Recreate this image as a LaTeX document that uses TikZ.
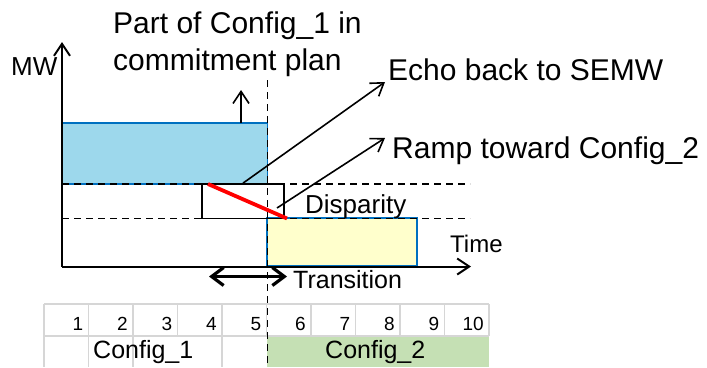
\documentclass[tikz,border=0pt]{standalone}
\usepackage{fontspec}
\setmainfont{Liberation Sans}
\usetikzlibrary{arrows.meta}
\definecolor{boxblue}{RGB}{157,216,236}
\definecolor{edgeblue}{RGB}{0,112,192}
\definecolor{boxyellow}{RGB}{255,255,204}
\definecolor{cellgreen}{RGB}{197,224,180}
\definecolor{gridgray}{RGB}{214,214,214}
\definecolor{rampred}{RGB}{255,0,0}
\tikzset{
  barb/.style={-{Straight Barb[length=12pt,width=16pt]}},
  axisline/.style={line width=2pt, barb},
  pointer/.style={line width=1.6pt, barb},
  dashline/.style={line width=1.8pt, dash pattern=on 7pt off 5pt},
  bigtext/.style={inner sep=0pt, anchor=base west, font=\fontsize{30}{36}\selectfont},
  midtext/.style={inner sep=0pt, anchor=base west, font=\fontsize{25}{30}\selectfont},
  celltext/.style={inner sep=0pt, anchor=base east, font=\fontsize{19}{23}\selectfont},
  planbox/.style={draw=edgeblue, line width=1.8pt, inner sep=0pt},
  gridline/.style={draw=gridgray, line width=1.5pt}
}
\begin{document}
\begin{tikzpicture}[x=1pt,y=-1pt]
\useasboundingbox (0,0) rectangle (707,367);
% boxes
\node (blue) [planbox, fill=boxblue, minimum width=205.5pt, minimum height=61pt] at (164.75,153.5) {};
\node (yellow) [planbox, fill=boxyellow, minimum width=150pt, minimum height=48pt] at (342.25,242.25) {};
\node (small) [draw=black, line width=1.7pt, inner sep=0pt, minimum width=82pt, minimum height=34.5pt] at (243,201.25) {};
% axes
\coordinate (origin) at (62,266.5);
\coordinate (ytip) at (62,42);
\coordinate (xtip) at (471,266.5);
\draw[axisline] (origin) -- (ytip);
\draw[axisline] (origin) -- (xtip);
% dashed guides
\coordinate (hA0) at (62,184);   \coordinate (hA1) at (470,184);
\coordinate (hB0) at (62,218.5); \coordinate (hB1) at (470,218.5);
\coordinate (v0) at (267.5,80);  \coordinate (v1) at (267.5,367);
\draw[dashline] (hA0) -- (hA1);
\draw[dashline] (hB0) -- (hB1);
% red ramp
\coordinate (r0) at (208,184);
\coordinate (r1) at (287,218.5);
\draw[rampred, line width=3.8pt] (r0) -- (r1);
% labels
\node (mw) [midtext, font=\fontsize{26}{30}\selectfont] at (11,75) {MW};
\node (part1) [bigtext] at (113,33) {Part of Config\_1 in};
\node (part2) [bigtext] at (113,70) {commitment plan};
\node (echo) [bigtext] at (388,80) {Echo back to SEMW};
\node (ramp) [bigtext] at (392,158) {Ramp toward Config\_2};
\node (disp) [midtext, font=\fontsize{26}{30}\selectfont] at (305,213) {Disparity};
\node (time) [midtext, font=\fontsize{24}{28}\selectfont] at (450,252) {Time};
\node (trans) [midtext] at (293,288) {Transition};
% pointers
\coordinate (upA) at (241,123);
\coordinate (upB) at (241,90);
\draw[pointer] (upA) -- (upB);
\coordinate (echotip) at (385,82);
\coordinate (ramps) at (277,208);
\coordinate (ramptip) at (385,138);
\draw[pointer] (small.north) -- (echotip);
\draw[pointer] (ramps) -- (ramptip);
% transition double arrow
\coordinate (t0) at (209,276.5);
\coordinate (t1) at (287,276.5);
\draw[line width=3.2pt, {Straight Barb[length=12pt,width=18pt]}-{Straight Barb[length=12pt,width=18pt]}] (t0) -- (t1);
% table
\fill[cellgreen] (266.5,336) rectangle (489,367);
\draw[gridline] (44,304) -- (489,304);
\draw[gridline] (44,336) -- (489,336);
\foreach \k in {0,...,10} {
  \draw[gridline] ({44+44.5*\k},304) -- ({44+44.5*\k},336);
}
\foreach \k in {0,1,2,4} {
  \draw[gridline] ({44+44.5*\k},336) -- ({44+44.5*\k},367);
}
\foreach \i in {1,...,10} {
  \node (n\i) [celltext] at ({44+44.5*\i-5},330) {\i};
}
\node (cfgA) [midtext] at (93,358) {Config\_1};
\node (cfgB) [midtext] at (325,358) {Config\_2};
% vertical dashed divider
\draw[dashline] (v0) -- (v1);
\end{tikzpicture}
\end{document}
